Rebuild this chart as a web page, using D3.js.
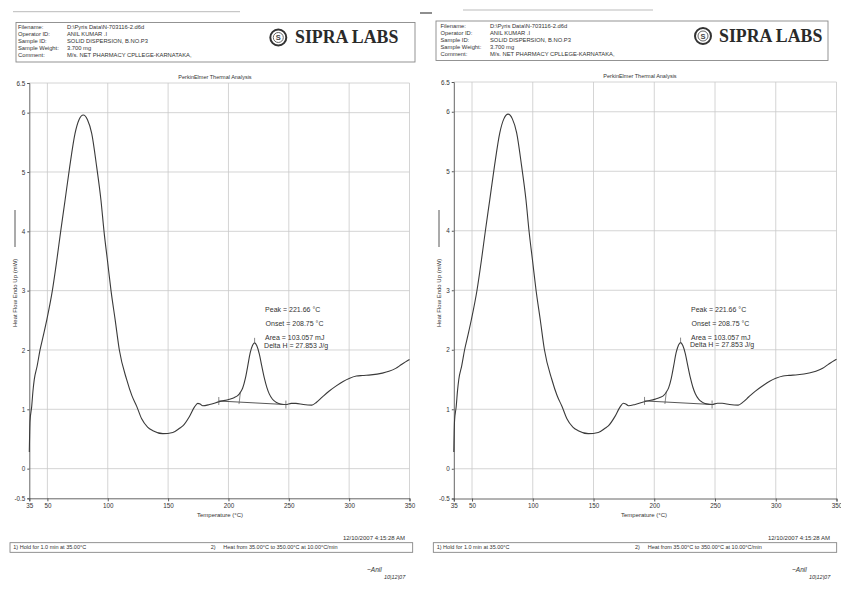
<!DOCTYPE html>
<html>
<head>
<meta charset="utf-8">
<script src="https://cdn.jsdelivr.net/npm/d3@7"></script>
<style>
  body { margin: 0; background: #fff; }
  svg text { font-family: "Liberation Sans", Arial, sans-serif; fill: #333; }
</style>
</head>
<body>
<div id="Thermogram"></div>
<script>
// curve (temperature in °C, heat flow in mW)
var temperature = [35.0, 35.6, 37.0, 38.0, 39.1, 41.5, 43.9, 46.7, 49.4, 54.1, 57.7, 61.0, 64.6, 68.5,
  72.9, 76.2, 79.7, 83.2, 86.7, 90.8, 94.4, 96.9, 99.8, 102.7, 106.2, 109.6, 115.7, 120.0, 124.0,
  128.1, 133.0, 137.4, 145.7, 153.9, 159.5, 162.2, 167.7, 171.9, 174.6, 176.5, 178.7, 184.3, 192.5,
  200.8, 205.0, 207.6, 210.0, 211.8, 214.0, 215.9, 218.0, 220.0, 221.7, 223.5, 225.6, 227.5, 229.7,
  231.8, 233.8, 236.5, 239.4, 243.0, 247.6, 252.0, 255.9, 262.0, 269.1, 273.0, 277.9, 283.0, 289.0,
  295.0, 300.0, 306.0, 311.0, 318.0, 327.5, 333.0, 338.6, 343.0, 348.2, 350.0];
var heatFlow = [0.28, 0.80, 1.05, 1.30, 1.50, 1.73, 2.00, 2.25, 2.50, 3.00, 3.50, 4.00, 4.52, 5.09,
  5.65, 5.88, 5.96, 5.88, 5.65, 5.09, 4.52, 4.00, 3.50, 3.00, 2.50, 2.00, 1.50, 1.23, 1.05,
  0.84, 0.70, 0.64, 0.59, 0.61, 0.68, 0.72, 0.88, 1.04, 1.10, 1.09, 1.06, 1.08, 1.13,
  1.17, 1.20, 1.23, 1.29, 1.36, 1.52, 1.72, 1.95, 2.08, 2.12, 2.07, 1.93, 1.74, 1.53,
  1.37, 1.26, 1.17, 1.12, 1.09, 1.08, 1.10, 1.10, 1.08, 1.07, 1.12, 1.21, 1.30, 1.39,
  1.47, 1.52, 1.56, 1.57, 1.58, 1.61, 1.64, 1.69, 1.75, 1.82, 1.84];

var xTickValues = [35, 50, 100, 150, 200, 250, 300, 350];
var yTickValues = [-0.5, 0, 1, 2, 3, 4, 5, 6, 6.5];

// peak integration
var peakTemp = 221.66, peakFlow = 2.12;
var onsetTemp = 208.75, onsetFlow = 1.25;
var baselineTemps = [192.0, 247.6];
var baselineFlows = [1.14, 1.08];
var peakNotes = ["Peak = 221.66 °C", "Onset = 208.75 °C", "Area = 103.057 mJ", "Delta H = 27.853 J/g"];

// header + footer texts
var headerLabels = ["Filename:", "Operator ID:", "Sample ID:", "Sample Weight:", "Comment:"];
var headerValues = ["D:\\Pyris Data\\N-703116-2.d6d", "ANIL KUMAR .I", "SOLID DISPERSION, B.NO.P3",
  "3.700 mg", "M/s. NET PHARMACY CPLLEGE-KARNATAKA,"];
var methodSteps = ["1)  Hold for 1.0 min at 35.00°C", "2)", "Heat from 35.00°C to 350.00°C at 10.00°C/min"];
var runDate = "12/10/2007 4:15:28 AM";

var points = temperature.map(function(t, i) { return {t: t, hf: heatFlow[i]}; });

// the scan holds the same printout twice, side by side
var panels = [
  {left: 29.3, right: 409.5, top: 83, bottom: 498.3,
   box: [16, 22.5, 399, 39.5], labelX: 18, valueX: 67, lineY0: 29, logoX: 278.3, logoY: 37.5, brandX: 295, brandBase: 43.4,
   scan: [13, 240, 11.7], titleX: 215, titleY: 78.5, yLabelX: 17, tempX: 220,
   foot: [10, 542.7, 402.7, 9.6], step1: 13.3, step2: 210.7, step2b: 223.3, dateX: 405, signX: 367},
  {left: 453.8, right: 836.5, top: 82, bottom: 498.5,
   box: [436, 21, 392, 39.5], labelX: 440.5, valueX: 490, lineY0: 27.5, logoX: 703, logoY: 36, brandX: 719, brandBase: 42.2,
   scan: [463, 653, 10], titleX: 640, titleY: 78, yLabelX: 441, tempX: 644,
   foot: [433.3, 542.7, 403.4, 9.6], step1: 436.7, step2: 635, step2b: 647.7, dateX: 830, signX: 792}
];

var svg = d3.select("#Thermogram")
  .append("svg")
    .attr("width", 841)
    .attr("height", 592);

panels.forEach(function(p, k) { drawPanel(svg.append("g"), p, k); });

function drawPanel(g, p, k) {
  var x = d3.scaleLinear().domain([35, 350]).range([p.left, p.right]);
  var y = d3.scaleLinear().domain([-0.5, 6.5]).range([p.bottom, p.top]);

  // faint scan streak over the header
  g.append("line")
    .attr("x1", p.scan[0]).attr("x2", p.scan[1])
    .attr("y1", p.scan[2]).attr("y2", p.scan[2])
    .attr("stroke", "#bbb").attr("stroke-width", 1);
  if (k == 1) {
    g.append("line")
      .attr("x1", 420).attr("x2", 432).attr("y1", 13).attr("y2", 13)
      .attr("stroke", "#444").attr("stroke-width", 1.2);
  }

  // header box
  g.append("rect")
    .attr("x", p.box[0]).attr("y", p.box[1])
    .attr("width", p.box[2]).attr("height", p.box[3])
    .attr("fill", "none").attr("stroke", "#888").attr("stroke-width", 0.9);
  g.selectAll(".hlabel")
    .data(headerLabels)
    .enter().append("text")
      .attr("x", p.labelX)
      .attr("y", function(d, i) { return p.lineY0 + i * 7.1; })
      .attr("font-size", 5.8)
      .text(function(d) { return d; });
  g.selectAll(".hvalue")
    .data(headerValues)
    .enter().append("text")
      .attr("x", p.valueX)
      .attr("y", function(d, i) { return p.lineY0 + i * 7.1; })
      .attr("font-size", 5.8)
      .text(function(d) { return d; });

  // logo
  g.append("circle").attr("cx", p.logoX).attr("cy", p.logoY).attr("r", 8)
    .attr("fill", "#fff").attr("stroke", "#333").attr("stroke-width", 2);
  g.append("circle").attr("cx", p.logoX).attr("cy", p.logoY).attr("r", 5)
    .attr("fill", "none").attr("stroke", "#666").attr("stroke-width", 1);
  g.append("text")
    .attr("x", p.logoX).attr("y", p.logoY + 2.6)
    .attr("text-anchor", "middle").attr("font-size", 7.5).attr("font-weight", "bold")
    .style("fill", "#444")
    .text("S");
  g.append("text")
    .attr("x", p.brandX).attr("y", p.brandBase)
    .attr("font-size", 17.8).attr("font-weight", "bold")
    .style("font-family", "'Liberation Serif', 'Times New Roman', serif")
    .style("fill", "#2a2a2a")
    .text("SIPRA LABS");

  g.append("text")
    .attr("x", p.titleX).attr("y", p.titleY)
    .attr("text-anchor", "middle").attr("font-size", 5.5)
    .text("PerkinElmer Thermal Analysis");

  // grid
  g.append("g").selectAll("line")
    .data(yTickValues.slice(1))
    .enter().append("line")
      .attr("x1", p.left).attr("x2", p.right)
      .attr("y1", function(d) { return y(d); }).attr("y2", function(d) { return y(d); })
      .attr("stroke", "#c9c9c9").attr("stroke-width", 0.8);
  g.append("g").selectAll("line")
    .data(xTickValues.slice(1))
    .enter().append("line")
      .attr("x1", function(d) { return x(d); }).attr("x2", function(d) { return x(d); })
      .attr("y1", p.top).attr("y2", p.bottom)
      .attr("stroke", "#c9c9c9").attr("stroke-width", 0.8);

  // axes
  var xAxis = g.append("g")
    .attr("transform", "translate(0," + p.bottom + ")")
    .call(d3.axisBottom(x).tickValues(xTickValues).tickSize(3).tickPadding(2).tickFormat(d3.format("d")));
  var yAxis = g.append("g")
    .attr("transform", "translate(" + p.left + ",0)")
    .call(d3.axisLeft(y).tickValues(yTickValues).tickSize(2).tickPadding(2).tickFormat(function(d) { return d; }));
  [xAxis, yAxis].forEach(function(a) {
    a.attr("font-size", 6.3).attr("font-family", null).attr("color", "#555");
    a.select(".domain").attr("stroke-width", 0.9);
  });

  g.append("text")
    .attr("x", p.tempX).attr("y", 517)
    .attr("text-anchor", "middle").attr("font-size", 6)
    .text("Temperature (°C)");

  // y label with its legend stroke
  g.append("text")
    .attr("transform", "translate(" + p.yLabelX + ",327) rotate(-90)")
    .attr("font-size", 6)
    .text("Heat Flow Endo Up (mW)");
  g.append("line")
    .attr("x1", p.yLabelX - 2).attr("x2", p.yLabelX - 2)
    .attr("y1", 247).attr("y2", 210)
    .attr("stroke", "#444").attr("stroke-width", 0.9);

  // thermogram
  var line = d3.line()
    .x(function(d) { return x(d.t); })
    .y(function(d) { return y(d.hf); })
    .curve(d3.curveMonotoneX);
  g.append("path")
    .datum(points)
    .attr("d", line)
    .attr("fill", "none")
    .attr("stroke", "#3a3a3a")
    .attr("stroke-width", 1.1);

  // integration baseline and its markers
  g.append("line")
    .attr("x1", x(baselineTemps[0])).attr("y1", y(baselineFlows[0]))
    .attr("x2", x(baselineTemps[1])).attr("y2", y(baselineFlows[1]))
    .attr("stroke", "#444").attr("stroke-width", 0.9);
  baselineTemps.forEach(function(t, i) {
    g.append("line")
      .attr("x1", x(t)).attr("x2", x(t))
      .attr("y1", y(baselineFlows[i]) - 4).attr("y2", y(baselineFlows[i]) + 4)
      .attr("stroke", "#555").attr("stroke-width", 0.7);
  });
  var onsetBase = d3.scaleLinear().domain(baselineTemps).range(baselineFlows)(onsetTemp);
  g.append("line")
    .attr("x1", x(onsetTemp)).attr("y1", y(onsetBase) + 2)
    .attr("x2", x(onsetTemp) + 1.5).attr("y2", y(onsetFlow) - 3)
    .attr("stroke", "#555").attr("stroke-width", 0.7);
  g.append("line")
    .attr("x1", x(peakTemp)).attr("x2", x(peakTemp))
    .attr("y1", y(peakFlow)).attr("y2", y(peakFlow) - 5)
    .attr("stroke", "#555").attr("stroke-width", 0.7);

  // peak notes
  var noteDy = [-30.5, -16.5, -2.5, 4.7];
  var noteDx = [10.5, 11, 10.5, 9.5];
  g.selectAll(".note")
    .data(peakNotes)
    .enter().append("text")
      .attr("x", function(d, i) { return x(peakTemp) + noteDx[i]; })
      .attr("y", function(d, i) { return y(peakFlow) + noteDy[i]; })
      .attr("font-size", 7)
      .text(function(d) { return d; });

  // footer
  g.append("text")
    .attr("x", p.dateX).attr("y", 539.5)
    .attr("text-anchor", "end").attr("font-size", 6)
    .text(runDate);
  g.append("rect")
    .attr("x", p.foot[0]).attr("y", p.foot[1])
    .attr("width", p.foot[2]).attr("height", p.foot[3])
    .attr("fill", "none").attr("stroke", "#777").attr("stroke-width", 0.8);
  [p.step1, p.step2, p.step2b].forEach(function(sx, i) {
    g.append("text")
      .attr("x", sx).attr("y", 549.3)
      .attr("font-size", 5.5)
      .text(methodSteps[i]);
  });

  // signature
  g.append("text")
    .attr("x", p.signX).attr("y", 572)
    .attr("font-size", 6.5).attr("font-style", "italic")
    .text("~Anil");
  g.append("text")
    .attr("x", p.signX + 17).attr("y", 579)
    .attr("font-size", 5.5).attr("font-style", "italic")
    .text("10|12|07");
}
</script>
</body>
</html>
